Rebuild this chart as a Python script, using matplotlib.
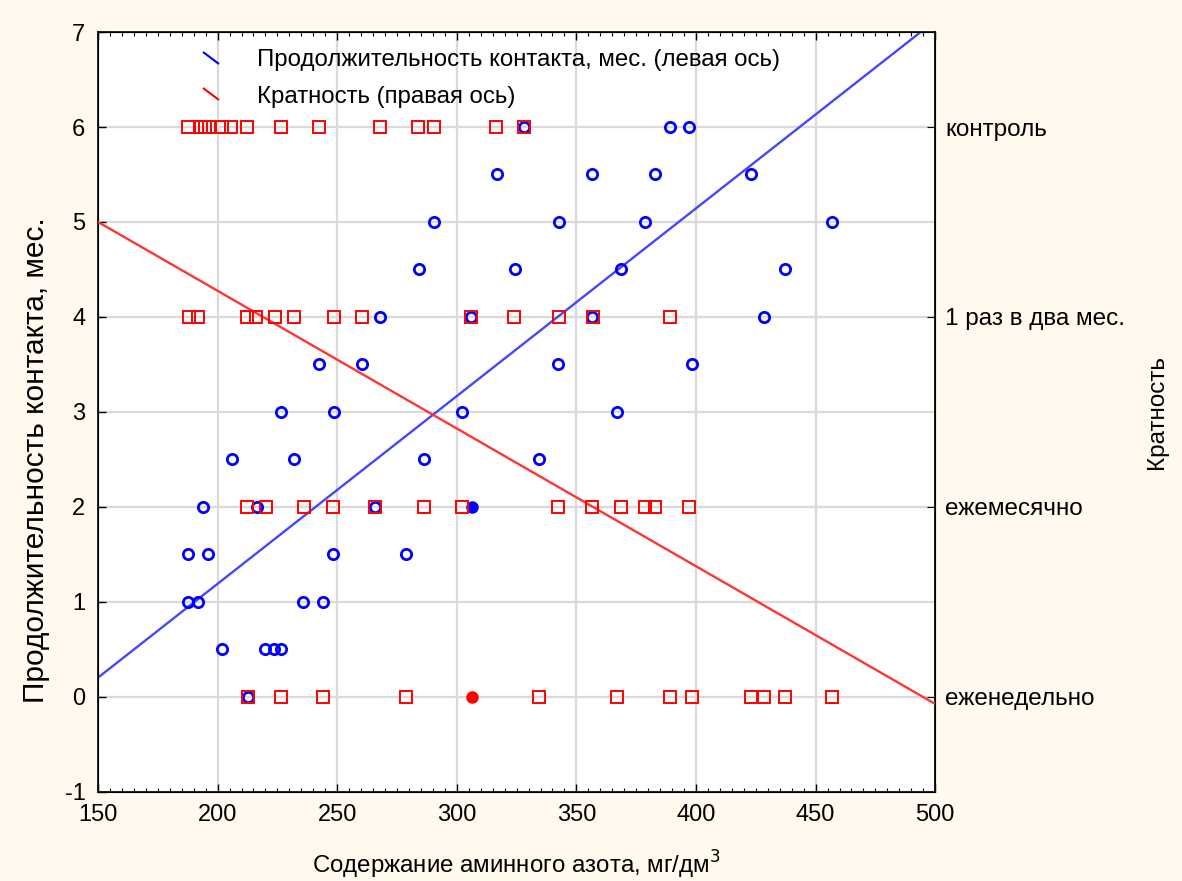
import matplotlib
matplotlib.use("Agg")
import matplotlib.pyplot as plt
from matplotlib.lines import Line2D
from matplotlib.markers import MarkerStyle
from matplotlib.ticker import MultipleLocator
import numpy as np

plt.rcParams['font.family'] = ['Liberation Sans', 'DejaVu Sans']
plt.rcParams['axes.unicode_minus'] = False

# --- duration of contact (left axis), months ---
amine_dur = [
    328.2, 389.0, 397.0,
    316.6, 356.4, 382.7, 422.8,
    290.5, 342.7, 378.8, 457.0,
    284.1, 324.3, 368.6, 437.2,
    268.1, 306.1, 356.7, 428.6,
    242.3, 260.3, 342.5, 398.3,
    226.5, 248.6, 302.2, 366.9,
    206.0, 232.1, 286.3, 334.5,
    194.0, 216.5, 265.9,
    187.7, 195.8, 248.4, 278.6,
    187.7, 192.0, 235.9, 244.0,
    201.8, 219.9, 223.7, 226.5,
    212.6,
]
duration = [
    6, 6, 6,
    5.5, 5.5, 5.5, 5.5,
    5, 5, 5, 5,
    4.5, 4.5, 4.5, 4.5,
    4, 4, 4, 4,
    3.5, 3.5, 3.5, 3.5,
    3, 3, 3, 3,
    2.5, 2.5, 2.5, 2.5,
    2, 2, 2,
    1.5, 1.5, 1.5, 1.5,
    1, 1, 1, 1,
    0.5, 0.5, 0.5, 0.5,
    0,
]

# --- contact frequency (right axis), coded 1..4 ---
freq_labels = ['еженедельно', 'ежемесячно', '1 раз в два мес.', 'контроль']
freq_codes = [1, 2, 3, 4]

amine_freq = [
    # контроль
    187.8, 193.0, 194.6, 196.3, 202.0, 205.8, 212.3, 226.5, 242.3,
    268.1, 283.8, 290.5, 316.2, 328.2,
    # 1 раз в два мес.
    188.0, 191.7, 212.3, 216.1, 224.0, 232.0, 248.8, 260.5, 306.1,
    324.1, 342.6, 356.8, 389.1,
    # ежемесячно
    212.3, 220.2, 236.0, 248.4, 265.9, 286.3, 302.0, 342.5, 356.4,
    368.6, 378.5, 382.7, 397.0,
    # еженедельно
    212.6, 226.5, 244.0, 278.6, 334.5, 366.9, 389.0, 398.3, 422.8,
    428.4, 437.2, 456.8,
]
frequency = [4] * 14 + [3] * 13 + [2] * 13 + [1] * 12

# highlighted case
sel_amine = 306.5
sel_duration = 2
sel_frequency = 1

# linear fits: value = intercept + slope * amine
dur_fit = (-2.766, 0.019773)
freq_fit = (4.588, -0.007253)

x_ticks = [150, 200, 250, 300, 350, 400, 450, 500]
y_ticks = [-1, 0, 1, 2, 3, 4, 5, 6, 7]

BLUE = '#0000ff'
RED = '#ff0000'

fig = plt.figure(figsize=(11.82, 8.81), dpi=100, facecolor='#fff9ee')
ax = fig.add_axes([0.0829, 0.1015, 0.7083, 0.8621])
ax.set_facecolor('white')
ax.set_xlim(150, 500)
ax.set_ylim(-1, 7)
ax.set_xticks(x_ticks)
ax.set_yticks(y_ticks)
ax.xaxis.set_minor_locator(MultipleLocator(5))
ax.grid(True, which='major', color='#dadada', linewidth=1.6, zorder=0)
ax.set_axisbelow(True)
num_font = ['Liberation Sans Narrow', 'Liberation Sans', 'DejaVu Sans']
ax.tick_params(which='major', direction='in', length=6, width=1, top=True,
               labelsize=17, pad=9)
ax.tick_params(which='minor', direction='in', length=3, width=0.8, top=True)
for lab in ax.get_xticklabels() + ax.get_yticklabels():
    lab.set_family(num_font)
for sp in ax.spines.values():
    sp.set_linewidth(1.2)

ax2 = ax.twinx()
ax2.set_ylim(0.5, 4.5)
ax2.set_yticks(freq_codes)
ax2.set_yticklabels(freq_labels, fontsize=17.5)
ax2.tick_params(direction='in', length=6, pad=7)

xs = np.array([150, 500])
ax.plot(xs, dur_fit[0] + dur_fit[1] * xs, color='#4646ff', lw=1.7, zorder=3)
ax2.plot(xs, freq_fit[0] + freq_fit[1] * xs, color='#ff3535', lw=1.7, zorder=3)

ax.plot(amine_dur, duration, linestyle='none', marker='o', markersize=7.4,
        markerfacecolor='none', markeredgecolor=BLUE, markeredgewidth=2.0, zorder=4)
ax2.plot(amine_freq, frequency, linestyle='none', marker='s', markersize=8.2,
         markerfacecolor='none', markeredgecolor=RED, markeredgewidth=1.4, zorder=4)
ax.plot([sel_amine], [sel_duration], linestyle='none', marker='o', markersize=8,
        color=BLUE, zorder=5)
ax2.plot([sel_amine], [sel_frequency], linestyle='none', marker='o', markersize=8,
         color=RED, zorder=5)

ax.set_xlabel('Содержание аминного азота, мг/дм$^3$', fontsize=17.3, labelpad=16)
ax.set_ylabel('Продолжительность контакта, мес.', fontsize=21.5)
ax.yaxis.set_label_coords(-0.057, 0.437)
ax2.set_ylabel('Кратность', fontsize=17.5)
ax2.yaxis.set_label_coords(1.252, 0.5)

handles = [
    Line2D([], [], color=BLUE, linestyle='none',
           marker=MarkerStyle('_').rotated(deg=-35), markersize=14, markeredgewidth=1.5),
    Line2D([], [], color=RED, linestyle='none',
           marker=MarkerStyle('_').rotated(deg=-35), markersize=14, markeredgewidth=1.5),
]
ax.legend(handles, ['Продолжительность контакта, мес. (левая ось)',
                    'Кратность (правая ось)'],
          loc='upper left', bbox_to_anchor=(192 / 1182, 1 - 49 / 881),
          bbox_transform=fig.transFigure, frameon=False, fontsize=17.3,
          handlelength=1.6, handletextpad=1.1, labelspacing=0.62,
          borderpad=0, borderaxespad=0)

fig.savefig('out.png', dpi=100, facecolor=fig.get_facecolor())
